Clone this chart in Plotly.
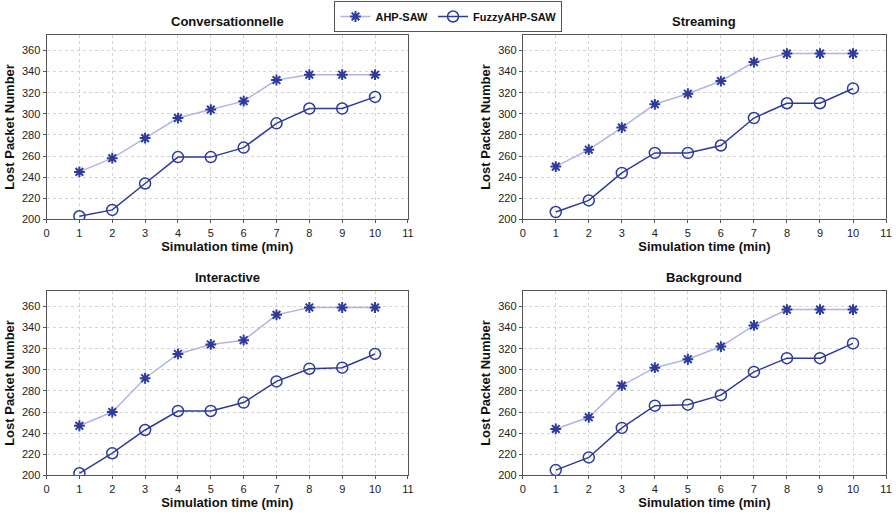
import plotly.graph_objects as go

# Simulation time (minutes)
time_min = [1, 2, 3, 4, 5, 6, 7, 8, 9, 10]

# Lost packets per traffic class
conv_ahp = [245, 258, 277, 296, 304, 312, 332, 337, 337, 337]
conv_fuzzy = [203, 209, 234, 259, 259, 268, 291, 305, 305, 316]

stream_ahp = [250, 266, 287, 309, 319, 331, 349, 357, 357, 357]
stream_fuzzy = [207, 218, 244, 263, 263, 270, 296, 310, 310, 324]

inter_ahp = [247, 260, 292, 315, 324, 328, 352, 359, 359, 359]
inter_fuzzy = [202, 221, 243, 261, 261, 269, 289, 301, 302, 315]

back_ahp = [244, 255, 285, 302, 310, 322, 342, 357, 357, 357]
back_fuzzy = [205, 217, 245, 266, 267, 276, 298, 311, 311, 325]

panel_titles = ["Conversationnelle", "Streaming", "Interactive", "Background"]
series_names = ["AHP-SAW", "FuzzyAHP-SAW"]
panel_data = [(conv_ahp, conv_fuzzy), (stream_ahp, stream_fuzzy),
              (inter_ahp, inter_fuzzy), (back_ahp, back_fuzzy)]

x_ticks = list(range(0, 12))
y_ticks = list(range(200, 361, 20))

DARK = "#2E3A9C"
LIGHT = "#B4B4E4"
FONT = "Liberation Sans, Arial, sans-serif"

W, H = 896, 516
# pixel boxes of the four plot areas: (left, right, top, bottom)
boxes = [(44, 409, 35, 222), (525, 892, 35, 222),
         (44, 409, 294, 481), (525, 892, 294, 481)]

fig = go.Figure()
annotations = []
for i, ((ahp, fuzzy), title, (l, r, t, b)) in enumerate(zip(panel_data, panel_titles, boxes)):
    n = "" if i == 0 else str(i + 1)
    xa, ya = "x" + n, "y" + n
    fig.add_trace(go.Scatter(
        x=time_min, y=ahp, mode="lines+markers",
        name="<b>" + series_names[0] + "</b>",
        line=dict(color=LIGHT, width=1.5),
        marker=dict(symbol="asterisk-open", size=9, color=DARK,
                    line=dict(color=DARK, width=2)),
        xaxis=xa, yaxis=ya, showlegend=(i == 0)))
    fig.add_trace(go.Scatter(
        x=time_min, y=fuzzy, mode="lines+markers",
        name="<b>" + series_names[1] + "</b>",
        line=dict(color=DARK, width=1.5),
        marker=dict(symbol="circle-open", size=11, color=DARK,
                    line=dict(color=DARK, width=1.5)),
        xaxis=xa, yaxis=ya, showlegend=(i == 0)))

    xdom = [l / W, r / W]
    ydom = [1 - b / H, 1 - t / H]
    axis_common = dict(showgrid=True, gridcolor="#D4D4D4", griddash="dot",
                       gridwidth=1, showline=True, linecolor="#555555",
                       linewidth=1, mirror=True, ticks="outside", ticklen=3,
                       tickcolor="#555555", zeroline=False,
                       tickfont=dict(family=FONT, size=11, color="#222222"))
    fig.layout["xaxis" + n] = dict(
        domain=xdom, range=[0, 11], tickvals=x_ticks, anchor=ya,
        title=dict(text="<b>Simulation time (min)</b>", standoff=2,
                   font=dict(family=FONT, size=13, color="#111111")),
        **axis_common)
    fig.layout["yaxis" + n] = dict(
        domain=ydom, range=[200, 375], tickvals=y_ticks, anchor=xa,
        title=dict(text="<b>Lost Packet Number</b>", standoff=4,
                   font=dict(family=FONT, size=13, color="#111111")),
        **axis_common)
    annotations.append(dict(
        text="<b>" + title + "</b>", x=(l + r) / 2 / W, y=1 - (t - 4) / H,
        xref="paper", yref="paper", xanchor="center", yanchor="bottom",
        showarrow=False, font=dict(family=FONT, size=13, color="#111111")))

fig.update_layout(
    width=W, height=H, margin=dict(l=0, r=0, t=0, b=0),
    paper_bgcolor="white", plot_bgcolor="white",
    annotations=annotations,
    legend=dict(orientation="h", x=450 / W, y=1 - 1 / H,
                xanchor="center", yanchor="top",
                bordercolor="#555555", borderwidth=1, bgcolor="white",
                font=dict(family=FONT, size=11, color="#111111"),
                itemwidth=30, tracegroupgap=0),
    showlegend=True,
)

fig.write_html("out.html")
